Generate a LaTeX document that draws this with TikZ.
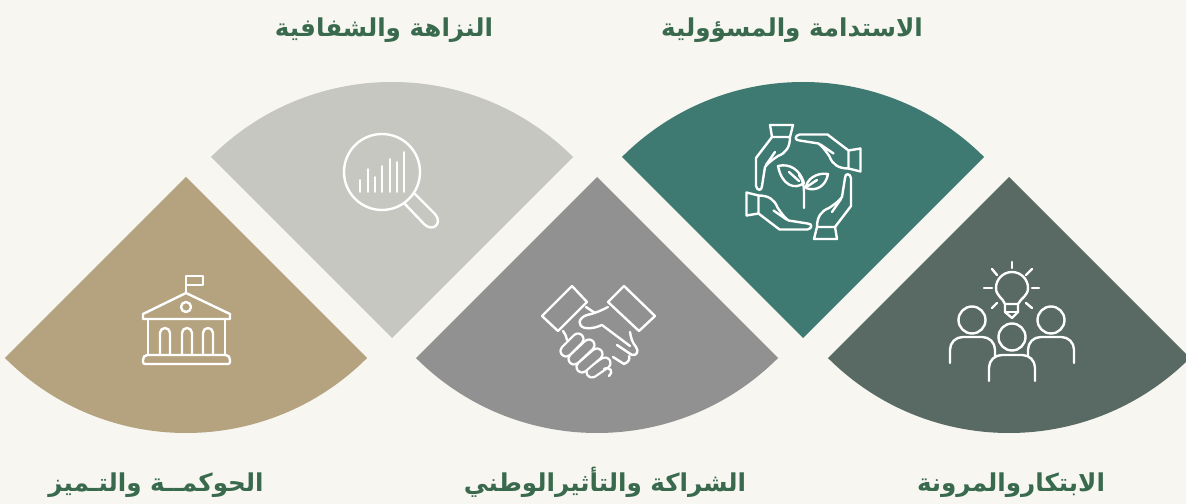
\documentclass[tikz,border=0pt]{standalone}
\usepackage{fontspec}
\newfontfamily\arabicfont[Script=Arabic]{DejaVu Sans}
\TeXXeTstate=1

\definecolor{pagebg}{HTML}{F7F6F0}
\definecolor{tansector}{HTML}{B5A380}
\definecolor{palesector}{HTML}{C6C7C1}
\definecolor{greysector}{HTML}{919191}
\definecolor{tealsector}{HTML}{3E7A72}
\definecolor{slatesector}{HTML}{586A63}
\definecolor{titlegreen}{HTML}{3A6A4E}

\tikzset{
  icon/.style={draw=white, line width=1.7pt, line cap=round, line join=round},
  finger/.style={draw=white, line width=1.6pt, line cap=round, double=greysector, double distance=6.2pt},
  heading/.style={text=titlegreen, font=\arabicfont\bfseries\fontsize{17.5}{21}\selectfont, inner sep=0pt, anchor=base}
}

\begin{document}
\begin{tikzpicture}[x=0.025cm, y=0.025cm, yscale=-1]

  \fill[pagebg] (0,0) rectangle (1186,504);
  \clip (0,0) rectangle (1186,504);

  % --- Sectors ---
  \fill[tansector] (186,177) -- ++(135:256) arc[start angle=135, end angle=45, radius=256] -- cycle;
  \fill[palesector] (392,338) -- ++(225:256) arc[start angle=225, end angle=315, radius=256] -- cycle;
  \fill[greysector] (597,177) -- ++(135:256) arc[start angle=135, end angle=45, radius=256] -- cycle;
  \fill[tealsector] (803,338) -- ++(225:256) arc[start angle=225, end angle=315, radius=256] -- cycle;
  \fill[slatesector] (1009,177) -- ++(135:256) arc[start angle=135, end angle=45, radius=256] -- cycle;

  % --- Headings ---
  \node[heading] (integrity) at (384,37) {\beginR النزاهة والشفافية\endR};
  \node[heading] (sustain) at (792,37) {\beginR الاستدامة والمسؤولية\endR};
  \node[heading] (governance) at (156,492) {\beginR الحوكمــة والتـميز\endR};
  \node[heading] (partner) at (605,492) {\beginR الشراكة والتأثيرالوطني\endR};
  \node[heading] (innovation) at (1011,492) {\beginR الابتكاروالمرونة\endR};

  % --- Building ---
  \draw[icon] (186,293) -- (186,276) -- (203,276) -- (203,285) -- (186,285);
  \draw[icon] (186,293) -- (230,314) -- (230,319) -- (143,319) -- (143,314) -- cycle;
  \draw[icon] (186,307) circle (5);
  \draw[icon] (148,319) -- (148,355) (225,319) -- (225,355);
  \draw[icon, rounded corners=1.5pt] (145,355) -- (228,355) -- (230,358) -- (230,364) -- (143,364) -- (143,358) -- cycle;
  \foreach \xarch in {165,187,208} {
    \draw[icon] (\xarch-5,355) -- (\xarch-5,333) arc[start angle=180, end angle=360, radius=5] -- (\xarch+5,355);
  }

  % --- Magnifier ---
  \draw[icon] (382,172) circle (38);
  \draw[icon] (415,194) -- (435,214) .. controls (443,223) and (433,233) .. (424,224) -- (404,203);
  \foreach \xbar/\ybar in {360/180, 368/169, 375/177, 382/166, 390/159, 397/162, 404/152} {
    \draw[icon, line width=1.3pt] (\xbar,192) -- (\xbar,\ybar);
  }

  % --- Handshake ---
  \draw[icon] (542,316) -- (572,286) -- (587,302) -- (558,331) -- cycle;
  \draw[icon] (624,286) -- (655,316) -- (639,331) -- (608,302) -- cycle;
  \foreach \xa/\ya/\xb/\yb in {
    592/372/605/363, 582/367/597/354, 574/359/589/345, 566/351/578/339} {
    \draw[finger] (\xa,\ya) -- (\xb,\yb);
  }
  \draw[icon] (608,307) .. controls (600,311) and (596,313) .. (587,315) .. controls (578,318) and (577,326) .. (585,328)
    .. controls (592,329) and (597,327) .. (602,325) -- (630,346);
  \draw[icon] (630,332) .. controls (631,338) and (632,342) .. (636,347) .. controls (639,351) and (637,356) .. (632,355) -- (617,345);
  \draw[icon] (613,357) -- (624,364) .. controls (629,362) and (630,359) .. (629,356);
  \draw[icon] (563,331) .. controls (565,333) and (566,336) .. (567,340);
  \draw[icon] (586,307) -- (595,313);
  \draw[icon] (604,369) .. controls (610,366) and (614,372) .. (609,376);

  % --- Hands round the plant ---
  \foreach \handangle in {0,90,180,270} {
    \begin{scope}[rotate around={\handangle:(803.5,182)}]
      \draw[icon] (770,125) -- (793,125) -- (790,137) -- (772,137) -- cycle;
      \draw[icon] (772,137) -- (756,158) -- (756,186) .. controls (757,191) and (762,191) .. (762,186)
        -- (765,167) .. controls (768,163) and (772,160) .. (778,156) .. controls (786,153) and (790,147) .. (790,137);
      \draw[icon] (775,152) -- (766,165);
    \end{scope}
  }

  % --- Plant ---
  \draw[icon] (804,208) -- (804,192) .. controls (804,186) and (803,180) .. (799,175);
  \draw[icon] (778,166) .. controls (790,163) and (800,170) .. (804,183) .. controls (795,190) and (782,186) .. cycle;
  \draw[icon] (828,174) .. controls (816,172) and (806,180) .. (806,188) .. controls (816,192) and (826,186) .. cycle;
  \draw[icon] (789,172) -- (799,181);
  \draw[icon] (817,180) -- (808,186);

  % --- Bulb ---
  \draw[icon] (1005,304) .. controls (1003,298) and (996,296) .. (996,288) arc[start angle=180, end angle=360, radius=16]
    .. controls (1028,296) and (1021,298) .. (1018,304) -- cycle;
  \draw[icon] (1005,304) -- (1005,312) -- (1012,318) -- (1018,312) -- (1018,304);
  \draw[icon] (1005,312) -- (1018,312);
  \draw[icon] (1012,262) -- (1012,268) (984,288) -- (992,288) (1032,288) -- (1039,288);
  \draw[icon] (992,269) -- (997,275) (1032,269) -- (1026,275) (992,308) -- (997,303) (1032,308) -- (1026,303);

  % --- People ---
  \draw[icon] (972,320) circle (13.5);
  \draw[icon] (1051,320) circle (13.5);
  \draw[icon] (1012,337) circle (13.5);
  \draw[icon, rounded corners=9pt] (950,363) -- (950,337) -- (995,337) -- (995,356);
  \draw[icon, rounded corners=9pt] (1028,356) -- (1028,337) -- (1074,337) -- (1074,363);
  \draw[icon, rounded corners=9pt] (989,381) -- (989,355) -- (1035,355) -- (1035,381);

\end{tikzpicture}
\end{document}
